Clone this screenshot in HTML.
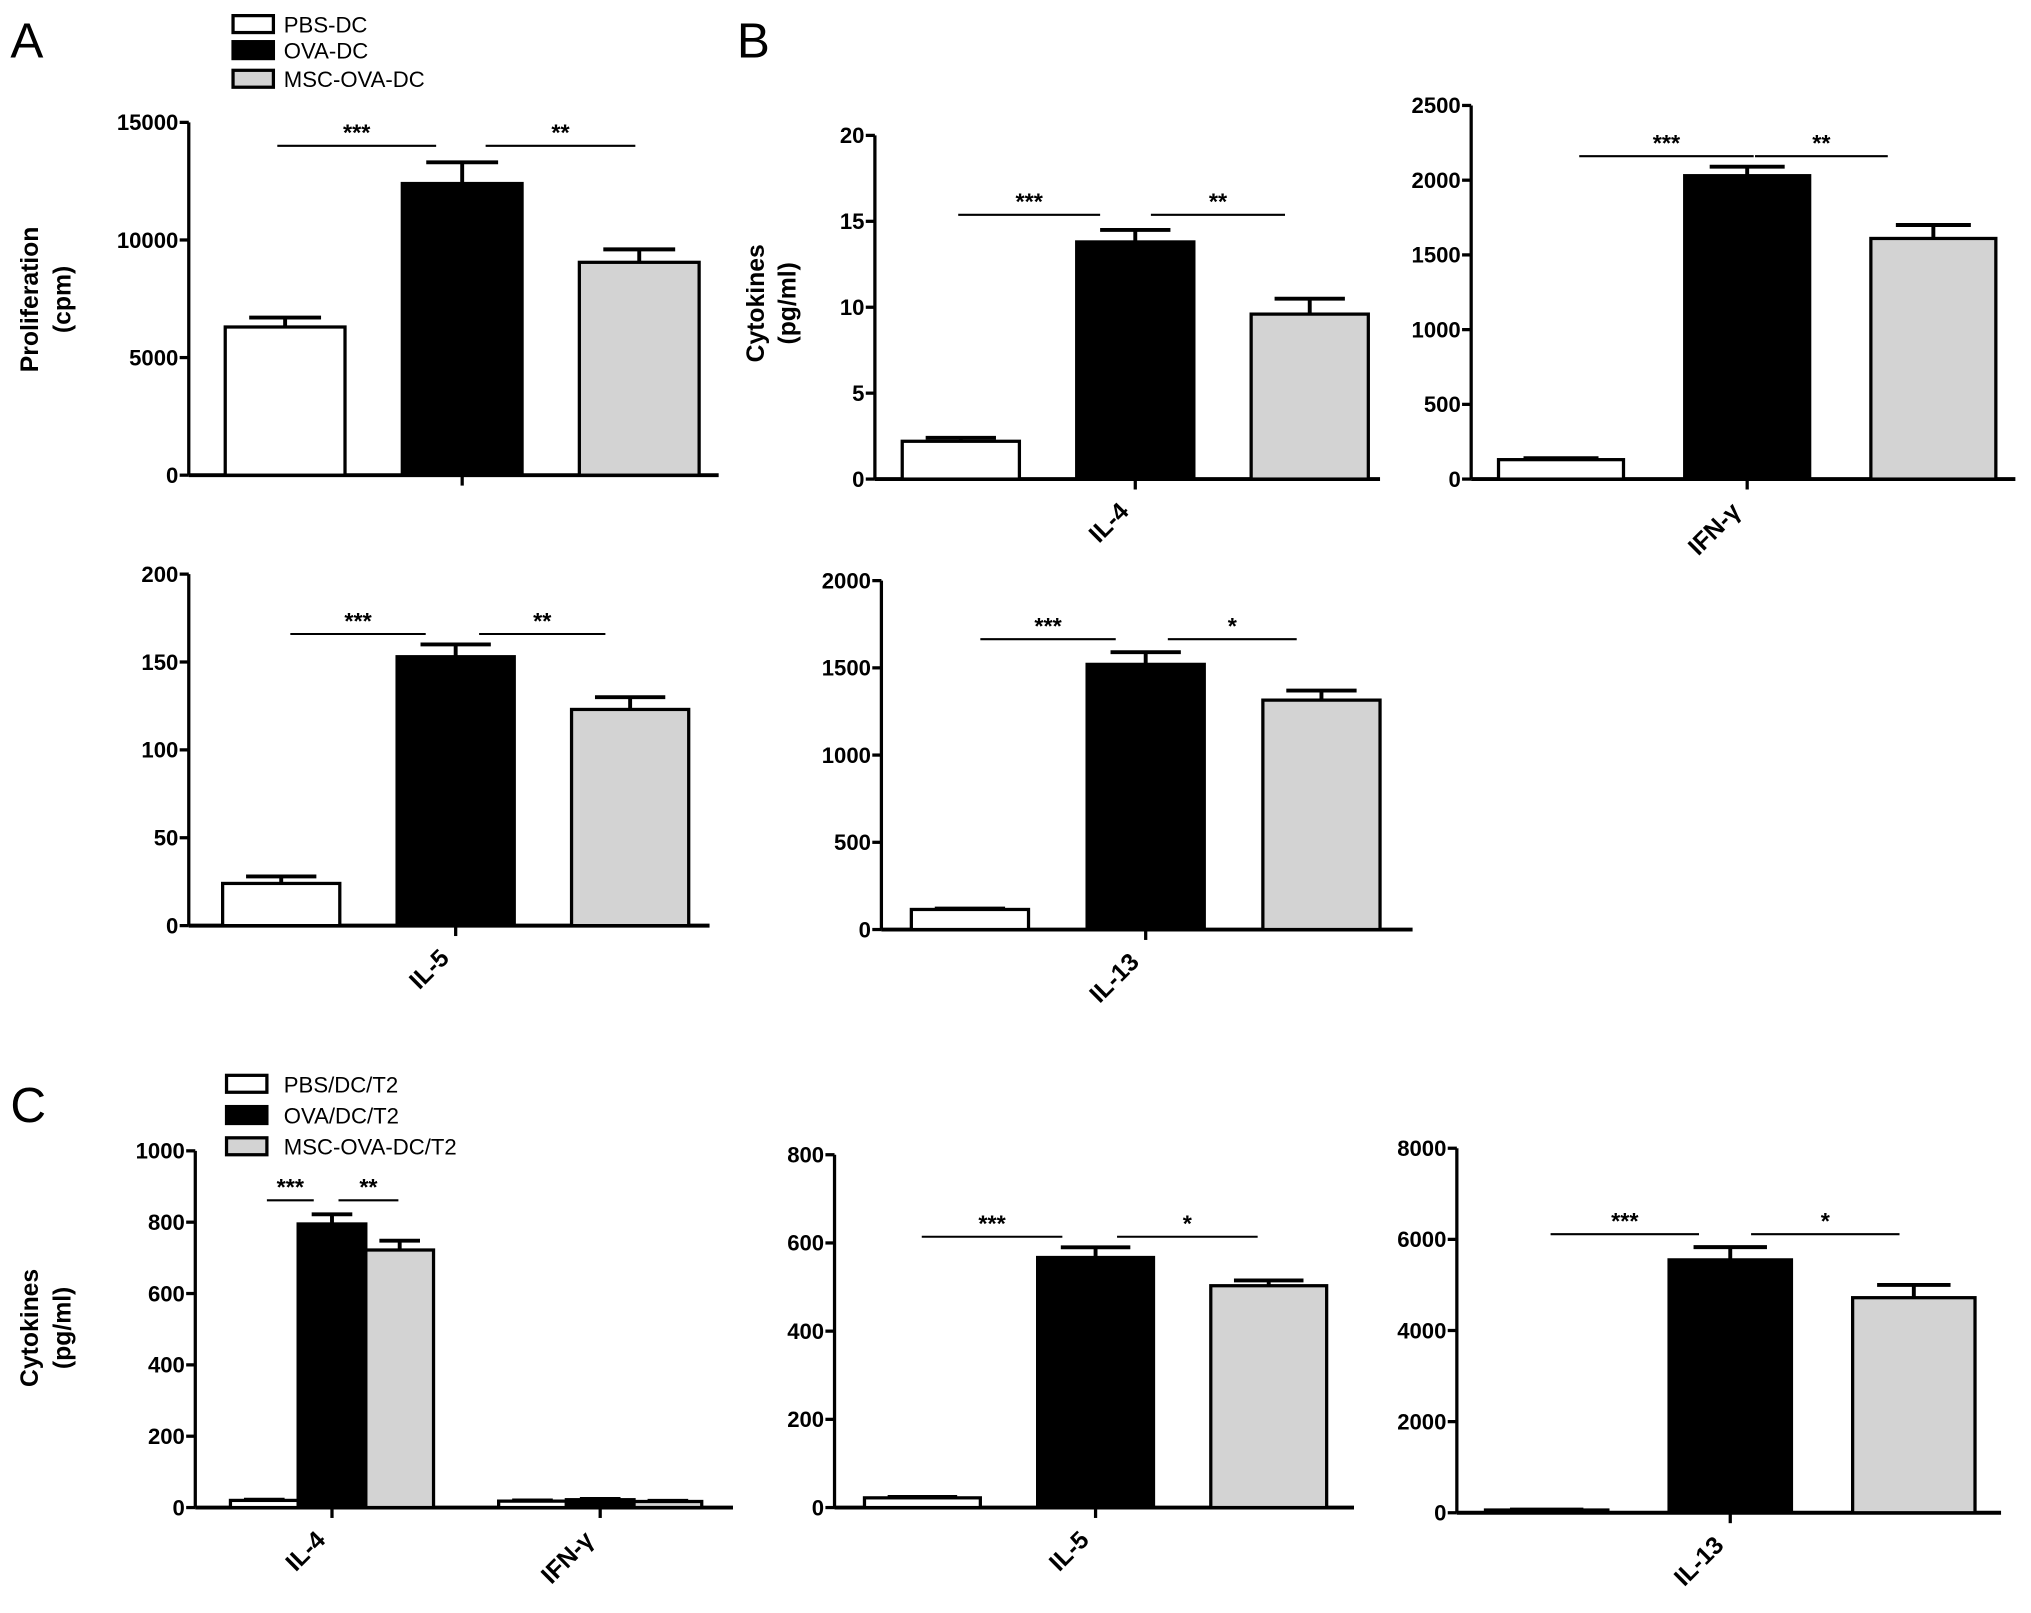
<!DOCTYPE html>
<html><head><meta charset="utf-8">
<style>
html,body{margin:0;padding:0;background:#fff;}
svg{display:block;}
text{font-family:"Liberation Sans",Arial,sans-serif;}
.tk{font-weight:bold;font-size:17px;}
.ttl{font-weight:bold;font-size:19px;}
.lg{font-size:17px;}
.pl{font-size:38px;}
.sg{font-weight:bold;font-size:18px;}
</style></head>
<body>
<svg id="fig" width="2031" height="1613" viewBox="0 0 1560 1239" preserveAspectRatio="none" xmlns="http://www.w3.org/2000/svg">
<g>
<text class="pl" x="8" y="44">A</text>
<text class="pl" x="566" y="44">B</text>
<text class="pl" x="8" y="862">C</text>
<g>
<rect x="179" y="12" width="31" height="13" fill="#fff" stroke="#000" stroke-width="2.5"/>
<text class="lg" x="218" y="25">PBS-DC</text>
<rect x="179" y="32" width="31" height="13" fill="#000" stroke="#000" stroke-width="2.5"/>
<text class="lg" x="218" y="45">OVA-DC</text>
<rect x="179" y="54" width="31" height="13" fill="#d3d3d3" stroke="#000" stroke-width="2.5"/>
<text class="lg" x="218" y="67">MSC-OVA-DC</text>
</g>
<g>
<rect x="174" y="826" width="31" height="13" fill="#fff" stroke="#000" stroke-width="2.5"/>
<text class="lg" x="218" y="839">PBS/DC/T2</text>
<rect x="174" y="850" width="31" height="13" fill="#000" stroke="#000" stroke-width="2.5"/>
<text class="lg" x="218" y="863">OVA/DC/T2</text>
<rect x="174" y="874" width="31" height="13" fill="#d3d3d3" stroke="#000" stroke-width="2.5"/>
<text class="lg" x="218" y="887">MSC-OVA-DC/T2</text>
</g>
<text class="ttl" transform="translate(29,230) rotate(-90)" text-anchor="middle">Proliferation</text>
<text class="ttl" transform="translate(54,230) rotate(-90)" text-anchor="middle">(cpm)</text>
<text class="ttl" transform="translate(587,233) rotate(-90)" text-anchor="middle">Cytokines</text>
<text class="ttl" transform="translate(611,233) rotate(-90)" text-anchor="middle">(pg/ml)</text>
<text class="ttl" transform="translate(29,1020) rotate(-90)" text-anchor="middle">Cytokines</text>
<text class="ttl" transform="translate(54,1020) rotate(-90)" text-anchor="middle">(pg/ml)</text>
</g>
</svg>
<script>
// ---- data ----
const fills = ['#fff', '#000', '#d3d3d3'];
const groupNames = ['pbs', 'ova', 'msc'];

const aCats = [''];
const aVals = [[6300, 12400, 9050]];
const aErr = [[6700, 13300, 9600]];
const aTicks = [0, 5000, 10000, 15000];

const il4Cats = ['IL-4'];
const il4Vals = [[2.2, 13.8, 9.6]];
const il4Err = [[2.4, 14.5, 10.5]];
const il4Ticks = [0, 5, 10, 15, 20];

const ifnCats = ['IFN-γ'];
const ifnVals = [[130, 2030, 1610]];
const ifnErr = [[140, 2090, 1700]];
const ifnTicks = [0, 500, 1000, 1500, 2000, 2500];

const il5Cats = ['IL-5'];
const il5Vals = [[24, 153, 123]];
const il5Err = [[28, 160, 130]];
const il5Ticks = [0, 50, 100, 150, 200];

const il13Cats = ['IL-13'];
const il13Vals = [[115, 1520, 1315]];
const il13Err = [[120, 1590, 1370]];
const il13Ticks = [0, 500, 1000, 1500, 2000];

const c1Cats = ['IL-4', 'IFN-γ'];
const c1Vals = [[20, 795, 722], [18, 22, 17]];
const c1Err = [[22, 822, 748], [20, 24, 19]];
const c1Ticks = [0, 200, 400, 600, 800, 1000];

const c2Cats = ['IL-5'];
const c2Vals = [[22, 567, 503]];
const c2Err = [[24, 590, 515]];
const c2Ticks = [0, 200, 400, 600, 800];

const c3Cats = ['IL-13'];
const c3Vals = [[60, 5550, 4720]];
const c3Err = [[70, 5830, 5000]];
const c3Ticks = [0, 2000, 4000, 6000, 8000];

const aSig = ['***', '**'];
const il4Sig = ['***', '**'];
const ifnSig = ['***', '**'];
const il5Sig = ['***', '**'];
const il13Sig = ['***', '*'];
const c1Sig = ['***', '**'];
const c2Sig = ['***', '*'];
const c3Sig = ['***', '*'];

// ---- layout ----
const NS = 'http://www.w3.org/2000/svg';
const fig = document.getElementById('fig');
function mk(tag, attrs, parent) {
  const e = document.createElementNS(NS, tag);
  for (const k in attrs) e.setAttribute(k, attrs[k]);
  parent.appendChild(e);
  return e;
}

function chart(cfg) {
  const g = mk('g', {}, fig);
  
  
  const max = cfg.ticks[cfg.ticks.length - 1];
  const y = v => cfg.y0 - (v / max) * (cfg.y0 - cfg.yTop);
  const ya = mk('line', {x1: cfg.x0, y1: cfg.yTop, x2: cfg.x0, y2: cfg.y0, stroke: '#000', 'stroke-width': 2.5}, g);
  
  
  cfg.ticks.forEach(t => {
    const tl = mk('line', {x1: cfg.x0 - 7, y1: y(t), x2: cfg.x0, y2: y(t), stroke: '#000', 'stroke-width': 2.5}, g);
    
    
    const tx = mk('text', {x: cfg.x0 - 8, y: y(t) + 6, 'text-anchor': 'end', class: 'tk'}, g);
    tx.textContent = String(t);
    
    
  });
  const xa = mk('line', {x1: cfg.x0, y1: cfg.y0, x2: cfg.x1, y2: cfg.y0, stroke: '#000', 'stroke-width': 3}, g);
  
  
  cfg.cats.forEach((c, ci) => {
    const gx = cfg.gStart[ci];
    const bw = cfg.bw, gap = cfg.gap;
    cfg.vals[ci].forEach((v, si) => {
      const bx = gx + si * (bw + gap);
      const r = mk('rect', {x: bx, y: y(v), width: bw, height: cfg.y0 - y(v), fill: fills[si], stroke: '#000', 'stroke-width': 2.5}, g);
      
      
      const e = cfg.err[ci][si];
      const cx = bx + bw / 2;
      const el = mk('path', {d: 'M' + cx + ' ' + y(v) + 'V' + y(e) + 'M' + (cx - bw * 0.3) + ' ' + y(e) + 'H' + (cx + bw * 0.3), stroke: '#000', 'stroke-width': 3, fill: 'none'}, g);
      
      
    });
    const tickX = gx + (3 * bw + 2 * gap) / 2;
    const xt = mk('line', {x1: tickX, y1: cfg.y0, x2: tickX, y2: cfg.y0 + 8, stroke: '#000', 'stroke-width': 2.5}, g);
    
    
    if (c) {
      const lx = tickX - 4, ly = cfg.y0 + 26;
      const xl = mk('text', {transform: 'translate(' + lx + ',' + ly + ') rotate(-45)', 'text-anchor': 'end', class: 'ttl'}, g);
      xl.textContent = c;
      
      
    }
  });
  cfg.sigLines.forEach((sLn, pi) => {
    const sl = mk('line', {x1: sLn[0], y1: cfg.sigY, x2: sLn[1], y2: cfg.sigY, stroke: '#000', 'stroke-width': 1.6}, g);
    
    
    const st = mk('text', {x: (sLn[0] + sLn[1]) / 2, y: cfg.sigY - 4, 'text-anchor': 'middle', class: 'sg'}, g);
    st.textContent = cfg.sig[pi];
    
    
  });
}

chart({name: 'chart-proliferation', cats: aCats, vals: aVals, err: aErr, ticks: aTicks, sig: aSig,
  x0: 145, x1: 552, y0: 365, yTop: 94, gStart: [173], bw: 92, gap: 44, sigY: 112, sigLines: [[213, 335], [373, 488]]});
chart({name: 'chart-il4-b', cats: il4Cats, vals: il4Vals, err: il4Err, ticks: il4Ticks, sig: il4Sig,
  x0: 672, x1: 1060, y0: 368, yTop: 104, gStart: [693], bw: 90, gap: 44, sigY: 165, sigLines: [[736, 845], [884, 987]]});
chart({name: 'chart-ifn-gamma-b', cats: ifnCats, vals: ifnVals, err: ifnErr, ticks: ifnTicks, sig: ifnSig,
  x0: 1130, x1: 1548, y0: 368, yTop: 81, gStart: [1151], bw: 96, gap: 47, sigY: 120, sigLines: [[1213, 1347], [1348, 1450]]});
chart({name: 'chart-il5-b', cats: il5Cats, vals: il5Vals, err: il5Err, ticks: il5Ticks, sig: il5Sig,
  x0: 145, x1: 545, y0: 711, yTop: 441, gStart: [171], bw: 90, gap: 44, sigY: 487, sigLines: [[223, 327], [368, 465]]});
chart({name: 'chart-il13-b', cats: il13Cats, vals: il13Vals, err: il13Err, ticks: il13Ticks, sig: il13Sig,
  x0: 677, x1: 1085, y0: 714, yTop: 446, gStart: [700], bw: 90, gap: 45, sigY: 491, sigLines: [[753, 857], [897, 996]]});
chart({name: 'chart-c-il4-ifn', cats: c1Cats, vals: c1Vals, err: c1Err, ticks: c1Ticks, sig: c1Sig,
  x0: 150, x1: 563, y0: 1158, yTop: 884, gStart: [177, 383], bw: 52, gap: 0, sigY: 922, sigLines: [[205, 241], [260, 306]]});
chart({name: 'chart-c-il5', cats: c2Cats, vals: c2Vals, err: c2Err, ticks: c2Ticks, sig: c2Sig,
  x0: 641, x1: 1040, y0: 1158, yTop: 887, gStart: [664], bw: 89, gap: 44, sigY: 950, sigLines: [[708, 816], [858, 966]]});
chart({name: 'chart-c-il13', cats: c3Cats, vals: c3Vals, err: c3Err, ticks: c3Ticks, sig: c3Sig,
  x0: 1119, x1: 1537, y0: 1162, yTop: 882, gStart: [1141], bw: 94, gap: 47, sigY: 948, sigLines: [[1191, 1305], [1345, 1459]]});
</script>
</body></html>
